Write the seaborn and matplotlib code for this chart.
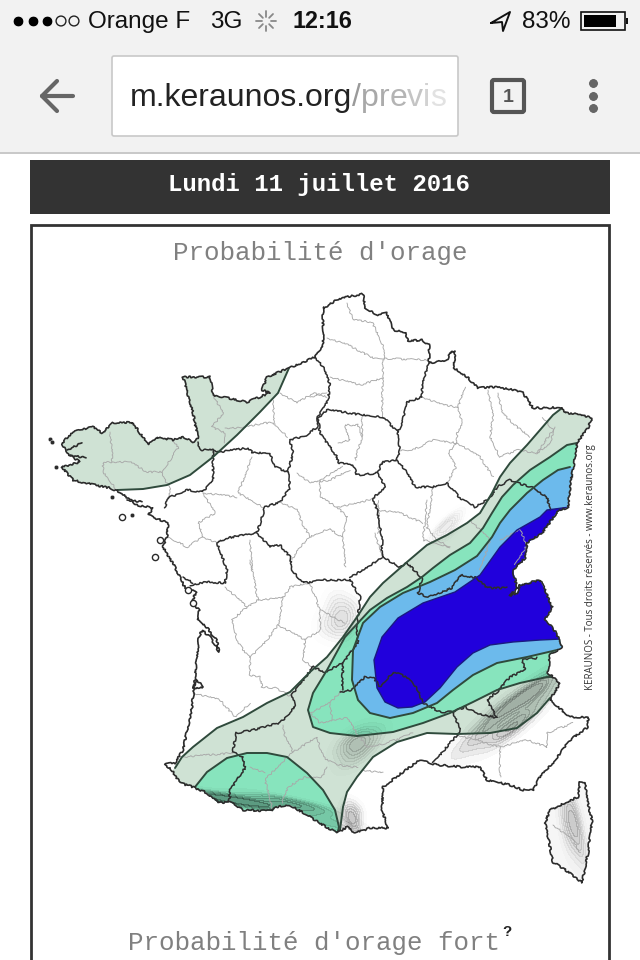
import matplotlib
matplotlib.use("Agg")
import matplotlib.pyplot as plt
import seaborn as sns
from matplotlib.colors import LinearSegmentedColormap
from matplotlib.patches import Polygon, Rectangle, FancyBboxPatch

# France outline (pixels), clockwise from Calais
FRANCE = [(324,308),(335,301),(347,297),(363,294),(365,308),(378,315),(387,313),(393,330),(405,332),(408,341),
          (422,340),(429,345),(429,363),(447,360),(450,352),(455,352),(454,368),(467,377),(478,388),(493,387),
          (510,389),(523,393),(533,408),(547,408),(562,407),(565,413),(580,414),(592,418),(588,428),(577,443),
          (574,463),(570,487),(568,507),(557,512),(550,522),(542,533),(527,543),(525,558),(513,570),(517,588),
          (510,596),(517,593),(520,585),(540,580),(545,590),(552,607),(545,620),(553,628),(560,640),(562,647),
          (550,655),(548,673),(560,683),(550,700),(570,717),(588,717),(588,727),(570,740),(553,763),(540,777),
          (533,790),(523,790),(510,785),(487,780),(480,767),(463,767),(437,765),(420,760),(403,772),(383,787),
          (382,810),(388,828),(370,828),(355,833),(347,827),(337,833),(323,825),(307,815),(290,805),(275,807),
          (273,811),(243,810),(230,802),(218,803),(207,793),(193,787),(180,783),(173,772),(165,764),(175,763),
          (183,750),(192,707),(199,637),(202,630),(210,637),(219,652),(217,641),(205,625),(197,620),(199,610),
          (192,602),(196,592),(185,588),(175,567),(163,547),(167,537),(168,523),(148,515),(153,508),(137,505),
          (120,492),(110,488),(85,483),(73,480),(62,467),(80,462),(67,453),(62,443),(73,432),(93,427),
          (102,433),(113,423),(132,422),(138,430),(148,445),(157,437),(173,440),(183,437),(193,442),(198,438),
          (193,413),(183,377),(193,377),(210,377),(213,395),(247,402),(270,393),(262,390),(267,377),(289,368),
          (315,357),(323,347),(323,307)]
CORSICA = [(580,782),(585,782),(587,800),(592,820),(588,853),(582,883),(570,873),(553,862),(550,847),(545,823),
           (550,810),(567,802),(578,797)]
DARK_ISLAND_X = [50, 52, 56, 112, 132]
DARK_ISLAND_Y = [439, 442, 467, 497, 515]
OPEN_ISLAND_X = [122, 160, 155, 188, 193]
OPEN_ISLAND_Y = [517, 540, 557, 590, 603]
COAST_DETAILS = [[(67, 450), (82, 443)], [(70, 455), (86, 458)], [(127, 500), (142, 502)],
                 [(193, 688), (197, 680), (203, 687), (193, 688)]]

# forecast contours
BRITTANY_ARC = [(289,368),(278,393),(260,412),(237,435),(213,457),(190,475),(167,485),(143,489),(117,490)]
BAND_UPPER = [(562,408),(553,415),(540,430),(527,445),(510,463),(500,477),(492,493),(480,513),(467,523),(447,535),
              (427,545),(407,562),(383,583),(370,597),(357,617),(343,637),(327,657),(310,672),(290,692),(267,703),
              (243,717),(217,728),(193,747),(182,757),(175,768)]
BAND_LOWER = [(340,830),(343,807),(347,792),(357,777),(373,757),(397,742),(427,733),(457,734),(490,733),(517,728),
              (537,713),(550,698)]
PYRENEES_ARC = [(195,787),(207,772),(227,758),(247,753),(267,753),(287,757),(307,773),(323,790),(335,810),(339,827),(337,835)]
MINT_EDGE = [(577,443),(567,445),(550,457),(530,470),(513,485),(502,497),(492,513),(483,528),(470,543),(450,555),
             (433,568),(422,577),(407,587),(387,598),(370,610),(345,637),(327,670),(313,693),(308,710),(313,727),
             (330,733),(357,736),(393,732),(423,723),(450,713),(473,702),(497,690),(520,683),(547,677),(555,677)]
BLUE_EDGE = [(570,467),(558,470),(543,480),(527,493),(510,510),(500,523),(492,537),(477,556),(455,570),(430,582),
             (403,593),(380,607),(363,623),(353,650),(352,680),(358,700),(370,713),(390,718),(413,713),(437,703),
             (453,690),(473,675),(497,663),(527,657),(557,650)]
DARK_EDGE = [(570,507),(547,510),(540,517),(517,530),(500,547),(480,575),(455,592),(423,603),(398,618),(382,637),
             (374,660),(377,688),(385,702),(398,708),(412,707),(425,702),(440,688),(457,667),(473,653),(490,645),
             (513,642),(540,640),(562,639)]

# thick region borders
REGION_LINES = [
    [(198,442),(200,450),(213,450),(213,480),(203,492),(187,490),(168,498),(165,508)],
    [(213,450),(220,452),(248,448),(253,453),(270,453),(275,467),(288,472),(290,488),(280,502),(265,507),(257,533),(227,538),(217,543),(227,570),(225,583),(207,582),(190,585)],
    [(257,533),(270,547),(280,545),(290,557),(292,570),(303,583),(323,580),(350,580),(360,597),(357,627),(358,642),(343,663),(342,690)],
    [(315,357),(323,367),(330,385),(328,400),(318,417),(317,427),(307,435),(290,440),(293,453),(288,472)],
    [(318,418),(327,410),(343,412),(362,415),(383,417),(398,432)],
    [(429,363),(422,383),(422,397),(407,402),(403,420),(398,432),(398,443),(400,450),(397,460),(382,462),(378,473),(357,475),(353,465),(338,463),(337,457),(320,433),(318,418)],
    [(397,460),(405,470),(415,487),(433,487),(447,483),(460,498),(475,507),(490,498),(497,487),(510,480),(517,483),(532,487),(547,497),(550,510)],
    [(378,473),(385,487),(373,498),(377,510),(382,537),(382,557),(393,563),(400,567),(407,563),(422,578),(418,593),(428,597),(452,588),(460,575),(477,578),(487,588),(507,588)],
    [(382,558),(362,570),(350,578)],
    [(343,663),(325,672),(313,667),(292,695),(295,707),(280,723),(263,727),(253,730),(236,733),(233,752),(243,757),(245,768),(230,790),(229,802)],
    [(183,577),(193,583)],
    [(340,692),(352,690),(365,677),(373,677),(380,687),(393,672),(407,677),(418,690),(423,703),(440,712),(453,712),(465,707),(477,713),(497,718),(487,700),(497,692),(510,677),(525,670),(522,660),(537,658)],
    [(453,712),(460,730),(457,735),(433,763)],
]
# thin department borders
DEPT_LINES = [
    [(110,432),(112,453),(112,462),(103,463),(103,472),(117,490)],
    [(112,462),(130,462),(147,472),(162,472),(178,448),(173,440)],
    [(162,472),(165,480),(170,488),(168,498)],
    [(213,395),(223,413),(212,427),(225,433),(225,443)],
    [(225,428),(243,428),(263,423),(273,423),(288,437)],
    [(273,400),(273,423)],
    [(280,393),(297,403),(313,393),(327,397)],
    [(252,457),(238,493),(263,507)],
    [(203,493),(237,497)],
    [(297,473),(310,483),(330,480),(350,470)],
    [(203,493),(215,513),(198,523),(203,537),(187,547),(168,537)],
    [(203,537),(217,543)],
    [(250,540),(252,570)],
    [(280,502),(297,510),(302,523),(310,537),(330,528)],
    [(310,537),(297,550),(292,560)],
    [(310,397),(327,393)],
    [(330,377),(360,385),(383,378)],
    [(383,360),(382,410),(383,417)],
    [(327,338),(348,345),(373,358),(428,360)],
    [(347,303),(353,320),(372,322),(385,350),(383,360)],
    [(362,417),(362,437),(355,460)],
    [(338,443),(350,440),(345,425),(358,425),(362,437)],
    [(320,480),(343,467)],
    [(320,480),(320,497),(337,507),(347,517),(343,537),(330,530)],
    [(337,507),(360,503),(373,498)],
    [(343,537),(345,567)],
    [(422,397),(443,405),(458,407),(465,387)],
    [(458,407),(462,423),(457,433),(457,443),(433,440),(413,450),(400,450)],
    [(457,443),(480,457),(493,477)],
    [(457,443),(448,453),(456,467),(447,483)],
    [(488,390),(493,417),(490,437),(500,457),(517,450),(537,453),(553,430),(543,417)],
    [(498,393),(502,413),(517,427),(530,437)],
    [(555,427),(550,443),(537,453)],
    [(433,487),(428,520),(427,528),(437,540),(450,547)],
    [(377,510),(400,513),(423,523)],
    [(375,533),(382,558)],
    [(427,500),(423,540),(450,547)],
    [(225,587),(247,607),(232,620),(238,643),(250,658),(250,675),(260,677),(262,687),(275,688),(292,697)],
    [(250,560),(258,600),(247,607)],
    [(258,600),(283,598),(290,587),(310,583),(320,610),(345,623)],
    [(320,610),(320,630),(305,640),(303,660),(313,667)],
    [(283,598),(278,625),(267,640),(250,658)],
    [(278,625),(305,640)],
    [(193,693),(220,700),(235,717),(250,703)],
    [(183,757),(233,753)],
    [(283,725),(285,737),(293,752),(317,737),(323,757),(337,765),(358,767)],
    [(327,767),(322,777),(305,777),(288,787),(282,803)],
    [(293,752),(277,767),(265,780),(273,810)],
    [(250,767),(265,773)],
    [(310,713),(330,703),(342,690)],
    [(330,703),(332,720),(320,723),(310,713)],
    [(332,720),(347,718),(358,735),(367,747),(387,743),(413,733)],
    [(362,770),(383,773)],
    [(457,735),(500,747),(500,777)],
    [(500,747),(527,740),(547,747),(547,733),(573,723)],
    [(378,500),(378,533)],
    [(470,520),(490,540),(480,570)],
    [(500,540),(520,530),(527,545),(515,565)],
    [(553,825),(573,840),(580,853)],
]

# relief shading, sampled spots per massif
PYRENEES_X = [205, 220, 235, 250, 265, 280, 295, 310, 325, 338]
PYRENEES_Y = [795, 798, 802, 802, 804, 800, 803, 810, 820, 828]
ROUSSILLON_X = [346, 352, 358, 350, 356]
ROUSSILLON_Y = [815, 822, 812, 808, 826]
MASSIF_X = [335, 340, 335, 345, 352, 345, 325]
MASSIF_Y = [600, 610, 625, 620, 610, 630, 625]
CEVENNES_X = [345, 355, 350, 360, 375, 365]
CEVENNES_Y = [745, 745, 760, 735, 735, 750]
ALPS_X = [490, 505, 520, 535, 545, 525, 500, 480, 465, 510, 545]
ALPS_Y = [720, 705, 700, 690, 695, 720, 735, 740, 745, 730, 680]
VOSGES_X = [445, 437, 455, 450]
VOSGES_Y = [525, 535, 518, 532]
CORSICA_RELIEF_X = [565, 572, 578, 568, 575, 570, 582]
CORSICA_RELIEF_Y = [815, 825, 835, 840, 815, 805, 855]

STATUS_SPINNER_DX = [0, 7, 10, 7, 0, -7, -10, -7]
STATUS_SPINNER_DY = [-10, -7, 0, 7, 10, 7, 0, -7]

sns.set_theme(style="white")
fig = plt.figure(figsize=(6.4, 9.6), dpi=100)
ax = fig.add_axes([0, 0, 1, 1])
ax.set_xlim(0, 640)
ax.set_ylim(960, 0)
ax.axis("off")


def draw_line(pts, color, lw, clip=None, rough=True, zorder=5):
    xs = [p[0] for p in pts]
    ys = [p[1] for p in pts]
    sns.lineplot(x=xs, y=ys, sort=False, estimator=None, color=color, linewidth=lw,
                 ax=ax, legend=False, zorder=zorder)
    line = ax.lines[-1]
    if rough:
        line.set_sketch_params(scale=0.9, length=7, randomness=24)
    if clip is not None:
        line.set_clip_path(clip)
    return line


def sans(x, y, s, size, **kw):
    kw.setdefault("color", "#111111")
    return ax.text(x, y, s, fontsize=size, family="Liberation Sans", va="center", **kw)


def mono(x, y, s, size, **kw):
    return ax.text(x, y, s, fontsize=size, family="Liberation Mono", ha="center", va="center", **kw)


def relief(xs, ys, clip, darkness, bw=1.0):
    shade = LinearSegmentedColormap.from_list("shade", [(0, 0, 0, 0), (0, 0, 0, darkness)])
    before = len(ax.collections)
    # no antialiasing here, the seams between the levels show otherwise
    sns.kdeplot(x=xs, y=ys, fill=True, levels=8, thresh=0.08, cmap=shade,
                bw_adjust=bw, gridsize=120, antialiased=False, ax=ax, zorder=4)
    for coll in ax.collections[before:]:
        coll.set_clip_path(clip)


# browser chrome
ax.add_patch(Rectangle((0, 0), 640, 152, fc="#f2f2f2", ec="none"))
ax.add_patch(Rectangle((0, 152), 640, 1.5, fc="#c9c9c9", ec="none"))
sns.scatterplot(x=[18, 33, 47], y=[21, 21, 21], s=60, color="black", ax=ax, legend=False)
sns.scatterplot(x=[61, 74], y=[21, 21], s=50, facecolor="none", edgecolor="#222222", linewidth=1, ax=ax, legend=False)
sans(88, 22, "Orange F", 17.5)
sans(210, 22, "3G", 17.5)
sans(292, 22, "12:16", 16.8, fontweight="bold")
sans(522, 22, "83%", 17.5)
for dx, dy in zip(STATUS_SPINNER_DX, STATUS_SPINNER_DY):
    draw_line([(266 + dx * 0.45, 21 + dy * 0.45), (266 + dx, 21 + dy)], "#888888", 1.3, rough=False)
draw_line([(491, 23), (510, 12), (503, 31), (502, 22), (491, 23)], "#111111", 1.4, rough=False)
ax.add_patch(Rectangle((581, 12), 44, 18, fc="none", ec="#111111", lw=1.2))
ax.add_patch(Rectangle((584, 15), 32, 12, fc="black", ec="none"))
ax.add_patch(Rectangle((626, 18), 2, 6, fc="#111111", ec="none"))

draw_line([(73, 96), (42, 96)], "#666666", 3, rough=False)
draw_line([(57, 81), (42, 96), (57, 111)], "#666666", 3, rough=False)
ax.add_patch(FancyBboxPatch((112, 56), 346, 80, boxstyle="round,pad=0,rounding_size=2",
                            fc="white", ec="#c8c8c8", lw=1.2))
url = sans(130, 98, "m.keraunos.org", 23, color="#222222")
fig.canvas.draw()
x_url = ax.transData.inverted().transform(url.get_window_extent().get_points())[1][0]
for chunk, col in [("/", "#9a9a9a"), ("p", "#a8a8a8"), ("r", "#acacac"), ("e", "#b4b4b4"),
                   ("v", "#c4c4c4"), ("i", "#d2d2d2"), ("s", "#e2e2e2")]:
    t = sans(x_url, 98, chunk, 23, color=col)
    x_url = ax.transData.inverted().transform(t.get_window_extent().get_points())[1][0]
ax.add_patch(FancyBboxPatch((492, 80), 32, 32, boxstyle="round,pad=0,rounding_size=2",
                            fc="none", ec="#555555", lw=3))
sans(508, 97, "1", 14, color="#555555", ha="center", fontweight="bold")
sns.scatterplot(x=[593, 593, 593], y=[83, 96, 108], s=50, color="#666666", ax=ax, legend=False)

# page
ax.add_patch(Rectangle((30, 160), 580, 54, fc="#333333", ec="none"))
ax.add_patch(Rectangle((31, 225), 578, 760, fc="white", ec="#333333", lw=2))
mono(319, 185, "Lundi 11 juillet 2016", 17.3, color="white", fontweight="bold")
mono(320, 253, "Probabilité d'orage", 18.6, color="#808080")
mono(314, 943, "Probabilité d'orage fort", 18.6, color="#808080")
sans(507, 932, "?", 11, color="#222222", ha="center", fontweight="bold")
ax.text(591, 567, "KERAUNOS - Tous droits réservés - www.keraunos.org", rotation=90, fontsize=7.05,
        family="Open Sans", color="#333333", ha="center", va="center")

# map
clip = Polygon(FRANCE, closed=True, fc="white", ec="none", transform=ax.transData, zorder=2)
ax.add_patch(clip)
corsica = Polygon(CORSICA, closed=True, fc="#f6f6f6", ec="none", zorder=2)
ax.add_patch(corsica)

zones = [
    (BRITTANY_ARC + [(40, 490), (40, 380), (180, 350), (289, 350)], "#cfe2d4"),
    (BAND_UPPER + [(150, 790), (150, 850), (340, 850)] + BAND_LOWER + [(620, 700), (620, 400)], "#cfe2d4"),
    (PYRENEES_ARC + [(337, 850), (180, 820)], "#87e4bd"),
    (MINT_EDGE + [(620, 677), (620, 440)], "#87e4bd"),
    (BLUE_EDGE + [(620, 650), (620, 467)], "#6cbaec"),
    (DARK_EDGE + [(620, 639), (620, 507)], "#2100dc"),
]
for pts, col in zones:
    poly = Polygon(pts, closed=True, fc=col, ec="none", zorder=3)
    ax.add_patch(poly)
    poly.set_clip_path(clip)

relief(PYRENEES_X, PYRENEES_Y, clip, 0.36, bw=1.0)
relief(ROUSSILLON_X, ROUSSILLON_Y, clip, 0.2, bw=1.4)
relief(MASSIF_X, MASSIF_Y, clip, 0.12, bw=1.4)
relief(CEVENNES_X, CEVENNES_Y, clip, 0.16, bw=1.4)
relief(ALPS_X, ALPS_Y, clip, 0.24, bw=1.1)
relief(VOSGES_X, VOSGES_Y, clip, 0.07, bw=1.4)
relief(CORSICA_RELIEF_X, CORSICA_RELIEF_Y, corsica, 0.18, bw=1.5)

for pts in DEPT_LINES:
    draw_line(pts, "#a8a8a8", 0.65)
for pts in REGION_LINES:
    draw_line(pts, "#2e2e2e", 1.1)
for pts in COAST_DETAILS:
    draw_line(pts, "#2b2b2b", 1.2)
for pts in [BRITTANY_ARC, BAND_UPPER, BAND_LOWER, PYRENEES_ARC, MINT_EDGE, BLUE_EDGE]:
    draw_line(pts, "#2f4a3c", 1.4, clip=clip, rough=False, zorder=6)
draw_line(DARK_EDGE, "#1a1a80", 1.0, clip=clip, rough=False, zorder=6)

draw_line(FRANCE + FRANCE[:1], "#2b2b2b", 1.2, zorder=7)
draw_line(CORSICA + CORSICA[:1], "#2b2b2b", 1.2, zorder=7)
sns.scatterplot(x=DARK_ISLAND_X, y=DARK_ISLAND_Y, s=10, color="#2b2b2b", ax=ax, legend=False, zorder=7)
sns.scatterplot(x=OPEN_ISLAND_X, y=OPEN_ISLAND_Y, s=20, marker="o", facecolor="white", edgecolor="#2b2b2b",
                linewidth=1, ax=ax, legend=False, zorder=7)

ax.set_xlim(0, 640)
ax.set_ylim(960, 0)
fig.savefig("out.png", dpi=100)
